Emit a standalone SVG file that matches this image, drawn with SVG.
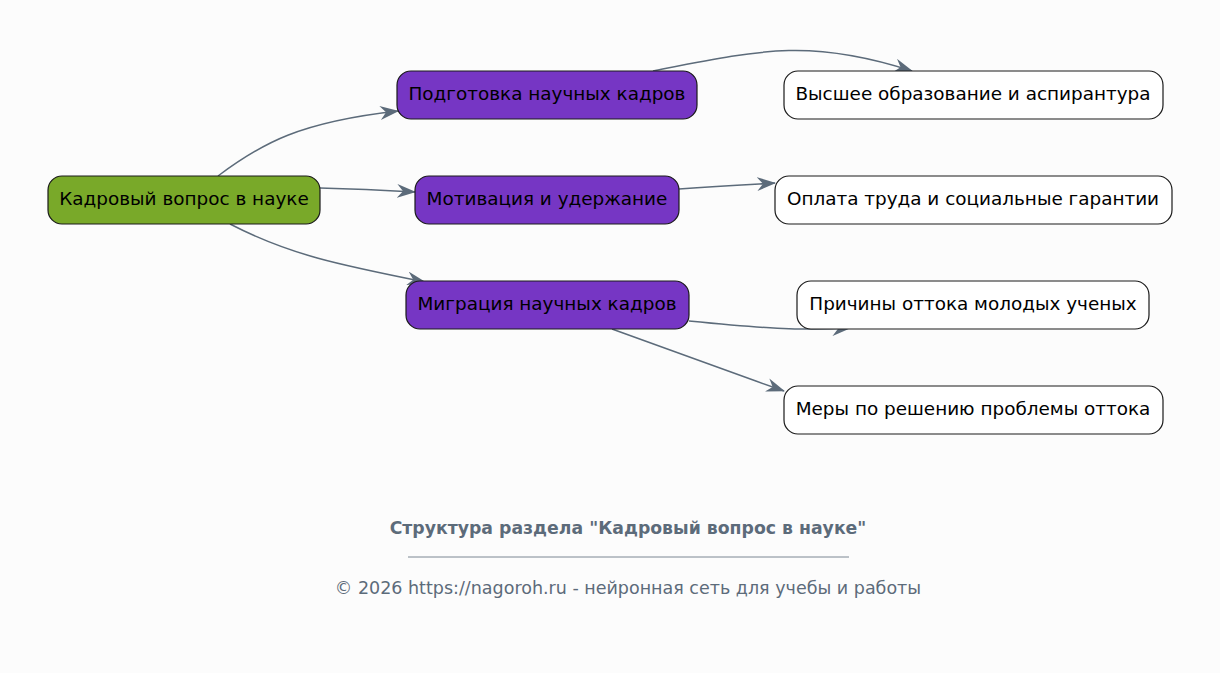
<svg xmlns="http://www.w3.org/2000/svg" width="1220" height="673" viewBox="0 0 1220 673">
<style>
.n rect{stroke:#1a1a1a;stroke-width:1.2}
.n text{font-family:"DejaVu Sans",sans-serif;font-size:18.4px;fill:#000;text-anchor:middle;dominant-baseline:central}
.root rect{fill:#79a929}
.mid rect{fill:#7636c4}
.leaf rect{fill:#ffffff}
#edges path{fill:none;stroke:#5c6b7a;stroke-width:1.5}
.ft{font-family:"DejaVu Sans",sans-serif;fill:#5c6b7a;text-anchor:middle}
</style>
<defs>
<marker id="ar" viewBox="0 0 20 14" refX="18" refY="7" markerWidth="20" markerHeight="14" markerUnits="userSpaceOnUse" orient="auto">
<path d="M0,0 L19,7 L0,14 L6,7 z" fill="#5c6b7a"/>
</marker>
</defs>
<rect width="1220" height="673" fill="#fcfcfc"/>
<g id="edges">
<path d="M218,176 C262,143 300,122 398,111" marker-end="url(#ar)"/>
<path d="M320,188 C360,189 380,190 415,192" marker-end="url(#ar)"/>
<path d="M230,224 C290,255 340,265 425,282" marker-end="url(#ar)"/>
<path d="M653,71 C760,50 810,38 912,71" marker-end="url(#ar)"/>
<path d="M679,189 C720,186 740,185 775,183" marker-end="url(#ar)"/>
<path d="M689,321 C760,328 800,331 850,328" marker-end="url(#ar)"/>
<path d="M612,329 C680,354 730,372 784,391" marker-end="url(#ar)"/>
</g>
<g id="n-root" class="n root"><rect x="48" y="176" width="272" height="48" rx="14"/><text x="184" y="198.5">Кадровый вопрос в науке</text></g>
<g id="n-podg" class="n mid"><rect x="397" y="71" width="300" height="48" rx="14"/><text x="547" y="93.5">Подготовка научных кадров</text></g>
<g id="n-motiv" class="n mid"><rect x="415" y="176" width="264" height="48" rx="14"/><text x="547" y="198.5">Мотивация и удержание</text></g>
<g id="n-migr" class="n mid"><rect x="406" y="281" width="283" height="48" rx="14"/><text x="547" y="303.5">Миграция научных кадров</text></g>
<g id="n-vyssh" class="n leaf"><rect x="784" y="71" width="379" height="48" rx="14"/><text x="973" y="93.5">Высшее образование и аспирантура</text></g>
<g id="n-oplata" class="n leaf"><rect x="775" y="176" width="397" height="48" rx="14"/><text x="973" y="198.5">Оплата труда и социальные гарантии</text></g>
<g id="n-prich" class="n leaf"><rect x="797" y="281" width="352" height="48" rx="14"/><text x="973" y="303.5">Причины оттока молодых ученых</text></g>
<g id="n-mery" class="n leaf"><rect x="784" y="386" width="379" height="48" rx="14"/><text x="973" y="408.5">Меры по решению проблемы оттока</text></g>
<g id="footer">
<text class="ft" x="628" y="534" font-size="17.3" font-weight="bold">Структура раздела "Кадровый вопрос в науке"</text>
<line x1="408" y1="557" x2="849" y2="557" stroke="#5c6b7a" stroke-width="0.8"/>
<text class="ft" x="628" y="594" font-size="17.5">© 2026 https://nagoroh.ru - нейронная сеть для учебы и работы</text>
</g>
</svg>
